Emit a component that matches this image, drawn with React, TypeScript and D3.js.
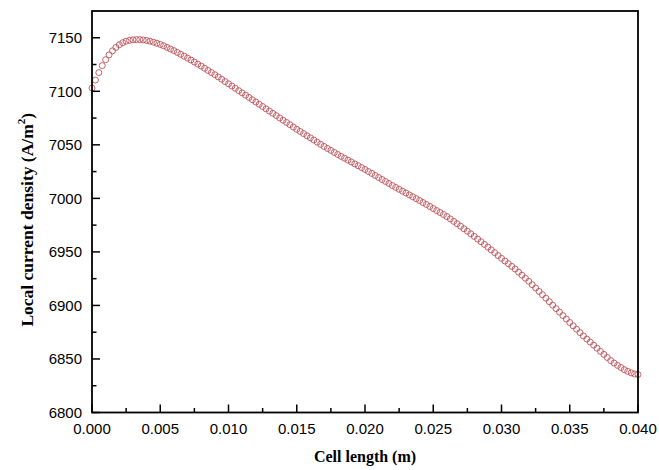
import React from "react";
import * as d3 from "d3";

const W = 659;
const H = 470;

const xStep = 0.00025;
const currentDensity: number[] = [
  7103.0, 7110.5, 7117.5, 7124.0, 7129.5, 7134.0, 7137.8, 7141.0,
  7143.5, 7145.4, 7146.8, 7147.6, 7148.1, 7148.3, 7148.3, 7148.0,
  7147.5, 7146.8, 7145.9, 7144.9, 7143.8, 7142.5, 7141.0, 7139.5,
  7138.0, 7136.3, 7134.6, 7132.8, 7131.0, 7129.2, 7127.3, 7125.4,
  7123.5, 7121.5, 7119.5, 7117.5, 7115.5, 7113.4, 7111.3, 7109.1,
  7107.0, 7104.9, 7102.8, 7100.6, 7098.5, 7096.4, 7094.3, 7092.1,
  7090.0, 7087.9, 7085.8, 7083.6, 7081.5, 7079.4, 7077.3, 7075.1,
  7073.0, 7070.9, 7068.8, 7066.6, 7064.5, 7062.5, 7060.5, 7058.5,
  7056.5, 7054.5, 7052.5, 7050.5, 7048.5, 7046.6, 7044.8, 7042.9,
  7041.0, 7039.2, 7037.5, 7035.7, 7034.0, 7032.2, 7030.5, 7028.7,
  7027.0, 7025.1, 7023.3, 7021.4, 7019.5, 7017.6, 7015.8, 7013.9,
  7012.0, 7010.2, 7008.5, 7006.7, 7005.0, 7003.2, 7001.5, 6999.7,
  6998.0, 6996.1, 6994.3, 6992.4, 6990.5, 6988.6, 6986.8, 6984.9,
  6983.0, 6980.8, 6978.5, 6976.3, 6974.0, 6971.6, 6969.3, 6966.9,
  6964.5, 6962.0, 6959.5, 6957.0, 6954.5, 6951.9, 6949.3, 6946.6,
  6944.0, 6941.5, 6939.0, 6936.5, 6934.0, 6931.1, 6928.3, 6925.4,
  6922.5, 6919.4, 6916.3, 6913.1, 6910.0, 6906.8, 6903.5, 6900.3,
  6897.0, 6893.8, 6890.5, 6887.3, 6884.0, 6880.9, 6877.8, 6874.6,
  6871.5, 6868.6, 6865.8, 6862.9, 6860.0, 6857.1, 6854.3, 6851.4,
  6848.5, 6846.2, 6844.0, 6842.0, 6840.0, 6838.4, 6837.0, 6836.0,
  6835.5,
];
const cellLength: number[] = currentDensity.map((_, i) => +(i * xStep).toFixed(5));

const xMajorTicks = [0, 0.005, 0.01, 0.015, 0.02, 0.025, 0.03, 0.035, 0.04];
const xMinorTicks = [0.0025, 0.0075, 0.0125, 0.0175, 0.0225, 0.0275, 0.0325, 0.0375];
const yMajorTicks = [6800, 6850, 6900, 6950, 7000, 7050, 7100, 7150];
const yMinorTicks = [6825, 6875, 6925, 6975, 7025, 7075, 7125];

const xTitle = "Cell length (m)";
const yTitle = "Local current density (A/m";

export default function App() {
  const left = 92, right = 638, top = 11, bottom = 412.5;
  const x = d3.scaleLinear().domain([0, 0.04]).range([left, right]);
  const y = d3.scaleLinear().domain([6800, 7175]).range([bottom, top]);
  const fmtX = d3.format(".3f");
  const sans = "'Liberation Sans', Arial, sans-serif";
  const serif = "'Liberation Serif', 'Times New Roman', serif";

  return (
    <div style={{ position: "absolute", left: 0, top: 0 }}>
      <svg width={W} height={H} viewBox={`0 0 ${W} ${H}`} style={{ display: "block", background: "#fff" }}>
        <g>
          {currentDensity.map((v, i) => (
            <circle
              key={i}
              cx={x(cellLength[i])}
              cy={y(v)}
              r={3}
              fill="none"
              stroke="#bb4a52"
              strokeWidth={0.85}
            />
          ))}
        </g>
        <rect x={left} y={top} width={right - left} height={bottom - top} fill="none" stroke="#000" strokeWidth={1.8} />
        <g stroke="#000" strokeWidth={1.5}>
          {xMajorTicks.map((t) => (
            <line key={"xm" + t} x1={x(t)} x2={x(t)} y1={bottom} y2={bottom - 8} />
          ))}
          {xMinorTicks.map((t) => (
            <line key={"xn" + t} x1={x(t)} x2={x(t)} y1={bottom} y2={bottom - 4.5} />
          ))}
          {yMajorTicks.map((t) => (
            <line key={"ym" + t} x1={left} x2={left + 8} y1={y(t)} y2={y(t)} />
          ))}
          {yMinorTicks.map((t) => (
            <line key={"yn" + t} x1={left} x2={left + 4.5} y1={y(t)} y2={y(t)} />
          ))}
        </g>
        <g fontFamily={sans} fontSize={15} fill="#000">
          {xMajorTicks.map((t) => (
            <text key={"xl" + t} x={x(t)} y={434} textAnchor="middle">
              {fmtX(t)}
            </text>
          ))}
          {yMajorTicks.map((t) => (
            <text key={"yl" + t} x={left - 10} y={y(t)} dy="0.35em" textAnchor="end">
              {t}
            </text>
          ))}
        </g>
        <text x={365} y={462} textAnchor="middle" fontFamily={serif} fontWeight="bold" fontSize={16}>
          {xTitle}
        </text>
        <text
          transform={`translate(33,${(top + bottom) / 2 + 8}) rotate(-90)`}
          textAnchor="middle"
          fontFamily={serif}
          fontWeight="bold"
          fontSize={17.5}
        >
          {yTitle}
          <tspan fontSize={11} dy={-8}>2</tspan>
          <tspan dy={8}>)</tspan>
        </text>
      </svg>
    </div>
  );
}
